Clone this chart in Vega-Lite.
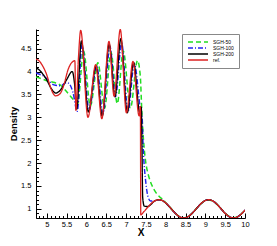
{
  "$schema": "https://vega.github.io/schema/vega-lite/v6.json",
  "width": 209,
  "height": 189,
  "autosize": {"type": "none"},
  "padding": {"left": 36, "top": 29, "right": 32, "bottom": 28},
  "background": "white",
  "config": {"view": {"stroke": null}, "font": "Liberation Sans"},
  "data": {"values": [
    {"s": "SGH-50", "x": 4.73, "rho": 3.88},
    {"s": "SGH-50", "x": 4.85, "rho": 3.85},
    {"s": "SGH-50", "x": 5.0, "rho": 3.8},
    {"s": "SGH-50", "x": 5.2, "rho": 3.76},
    {"s": "SGH-50", "x": 5.35, "rho": 3.7},
    {"s": "SGH-50", "x": 5.46, "rho": 3.6},
    {"s": "SGH-50", "x": 5.61, "rho": 3.45},
    {"s": "SGH-50", "x": 5.71, "rho": 3.35},
    {"s": "SGH-50", "x": 5.78, "rho": 3.3},
    {"s": "SGH-50", "x": 5.93, "rho": 4.45},
    {"s": "SGH-50", "x": 6.1, "rho": 3.25},
    {"s": "SGH-50", "x": 6.29, "rho": 4.19},
    {"s": "SGH-50", "x": 6.46, "rho": 3.2},
    {"s": "SGH-50", "x": 6.62, "rho": 4.42},
    {"s": "SGH-50", "x": 6.78, "rho": 3.3},
    {"s": "SGH-50", "x": 6.93, "rho": 4.45},
    {"s": "SGH-50", "x": 7.11, "rho": 3.2},
    {"s": "SGH-50", "x": 7.29, "rho": 4.24},
    {"s": "SGH-50", "x": 7.36, "rho": 3.9},
    {"s": "SGH-50", "x": 7.4, "rho": 3.1},
    {"s": "SGH-50", "x": 7.45, "rho": 2.4},
    {"s": "SGH-50", "x": 7.5, "rho": 2.0},
    {"s": "SGH-50", "x": 7.56, "rho": 1.75},
    {"s": "SGH-50", "x": 7.65, "rho": 1.52},
    {"s": "SGH-50", "x": 7.75, "rho": 1.36},
    {"s": "SGH-50", "x": 7.85, "rho": 1.26},
    {"s": "SGH-50", "x": 7.95, "rho": 1.19},
    {"s": "SGH-50", "x": 8.0, "rho": 1.13},
    {"s": "SGH-50", "x": 8.1, "rho": 1.041},
    {"s": "SGH-50", "x": 8.2, "rho": 0.942},
    {"s": "SGH-50", "x": 8.3, "rho": 0.86},
    {"s": "SGH-50", "x": 8.4, "rho": 0.812},
    {"s": "SGH-50", "x": 8.456, "rho": 0.805},
    {"s": "SGH-50", "x": 8.5, "rho": 0.81},
    {"s": "SGH-50", "x": 8.6, "rho": 0.852},
    {"s": "SGH-50", "x": 8.7, "rho": 0.932},
    {"s": "SGH-50", "x": 8.8, "rho": 1.03},
    {"s": "SGH-50", "x": 8.9, "rho": 1.118},
    {"s": "SGH-50", "x": 9.0, "rho": 1.178},
    {"s": "SGH-50", "x": 9.085, "rho": 1.193},
    {"s": "SGH-50", "x": 9.2, "rho": 1.163},
    {"s": "SGH-50", "x": 9.3, "rho": 1.093},
    {"s": "SGH-50", "x": 9.4, "rho": 0.998},
    {"s": "SGH-50", "x": 9.5, "rho": 0.904},
    {"s": "SGH-50", "x": 9.6, "rho": 0.834},
    {"s": "SGH-50", "x": 9.71, "rho": 0.806},
    {"s": "SGH-50", "x": 9.8, "rho": 0.822},
    {"s": "SGH-50", "x": 9.9, "rho": 0.882},
    {"s": "SGH-50", "x": 10.0, "rho": 0.974},

    {"s": "SGH-100", "x": 4.73, "rho": 3.97},
    {"s": "SGH-100", "x": 4.85, "rho": 3.93},
    {"s": "SGH-100", "x": 4.93, "rho": 3.9},
    {"s": "SGH-100", "x": 5.05, "rho": 3.8},
    {"s": "SGH-100", "x": 5.18, "rho": 3.71},
    {"s": "SGH-100", "x": 5.35, "rho": 3.69},
    {"s": "SGH-100", "x": 5.5, "rho": 3.76},
    {"s": "SGH-100", "x": 5.58, "rho": 3.72},
    {"s": "SGH-100", "x": 5.66, "rho": 3.55},
    {"s": "SGH-100", "x": 5.77, "rho": 3.13},
    {"s": "SGH-100", "x": 5.89, "rho": 4.58},
    {"s": "SGH-100", "x": 6.07, "rho": 3.15},
    {"s": "SGH-100", "x": 6.26, "rho": 4.13},
    {"s": "SGH-100", "x": 6.42, "rho": 3.08},
    {"s": "SGH-100", "x": 6.595, "rho": 4.55},
    {"s": "SGH-100", "x": 6.735, "rho": 3.45},
    {"s": "SGH-100", "x": 6.89, "rho": 4.62},
    {"s": "SGH-100", "x": 7.05, "rho": 3.13},
    {"s": "SGH-100", "x": 7.21, "rho": 4.17},
    {"s": "SGH-100", "x": 7.37, "rho": 3.15},
    {"s": "SGH-100", "x": 7.4, "rho": 3.05},
    {"s": "SGH-100", "x": 7.435, "rho": 2.29},
    {"s": "SGH-100", "x": 7.5, "rho": 1.57},
    {"s": "SGH-100", "x": 7.56, "rho": 1.25},
    {"s": "SGH-100", "x": 7.62, "rho": 1.17},
    {"s": "SGH-100", "x": 7.7, "rho": 1.17},
    {"s": "SGH-100", "x": 7.77, "rho": 1.19},
    {"s": "SGH-100", "x": 7.84, "rho": 1.2},
    {"s": "SGH-100", "x": 7.9, "rho": 1.187},
    {"s": "SGH-100", "x": 8.0, "rho": 1.13},
    {"s": "SGH-100", "x": 8.1, "rho": 1.041},
    {"s": "SGH-100", "x": 8.2, "rho": 0.942},
    {"s": "SGH-100", "x": 8.3, "rho": 0.858},
    {"s": "SGH-100", "x": 8.4, "rho": 0.808},
    {"s": "SGH-100", "x": 8.456, "rho": 0.8},
    {"s": "SGH-100", "x": 8.5, "rho": 0.805},
    {"s": "SGH-100", "x": 8.6, "rho": 0.85},
    {"s": "SGH-100", "x": 8.7, "rho": 0.932},
    {"s": "SGH-100", "x": 8.8, "rho": 1.03},
    {"s": "SGH-100", "x": 8.9, "rho": 1.12},
    {"s": "SGH-100", "x": 9.0, "rho": 1.183},
    {"s": "SGH-100", "x": 9.085, "rho": 1.2},
    {"s": "SGH-100", "x": 9.2, "rho": 1.167},
    {"s": "SGH-100", "x": 9.3, "rho": 1.093},
    {"s": "SGH-100", "x": 9.4, "rho": 0.998},
    {"s": "SGH-100", "x": 9.5, "rho": 0.902},
    {"s": "SGH-100", "x": 9.6, "rho": 0.831},
    {"s": "SGH-100", "x": 9.71, "rho": 0.8},
    {"s": "SGH-100", "x": 9.8, "rho": 0.819},
    {"s": "SGH-100", "x": 9.9, "rho": 0.882},
    {"s": "SGH-100", "x": 10.0, "rho": 0.974},

    {"s": "SGH-200", "x": 4.73, "rho": 4.09},
    {"s": "SGH-200", "x": 4.85, "rho": 4.0},
    {"s": "SGH-200", "x": 5.0, "rho": 3.82},
    {"s": "SGH-200", "x": 5.12, "rho": 3.62},
    {"s": "SGH-200", "x": 5.23, "rho": 3.53},
    {"s": "SGH-200", "x": 5.35, "rho": 3.6},
    {"s": "SGH-200", "x": 5.5, "rho": 3.82},
    {"s": "SGH-200", "x": 5.645, "rho": 4.0},
    {"s": "SGH-200", "x": 5.7, "rho": 3.75},
    {"s": "SGH-200", "x": 5.755, "rho": 3.18},
    {"s": "SGH-200", "x": 5.875, "rho": 4.67},
    {"s": "SGH-200", "x": 6.05, "rho": 3.12},
    {"s": "SGH-200", "x": 6.245, "rho": 4.12},
    {"s": "SGH-200", "x": 6.4, "rho": 3.03},
    {"s": "SGH-200", "x": 6.575, "rho": 4.6},
    {"s": "SGH-200", "x": 6.72, "rho": 3.45},
    {"s": "SGH-200", "x": 6.87, "rho": 4.72},
    {"s": "SGH-200", "x": 7.03, "rho": 3.1},
    {"s": "SGH-200", "x": 7.19, "rho": 4.2},
    {"s": "SGH-200", "x": 7.35, "rho": 3.08},
    {"s": "SGH-200", "x": 7.385, "rho": 3.22},
    {"s": "SGH-200", "x": 7.4, "rho": 2.5},
    {"s": "SGH-200", "x": 7.42, "rho": 1.25},
    {"s": "SGH-200", "x": 7.46, "rho": 1.06},
    {"s": "SGH-200", "x": 7.55, "rho": 1.05},
    {"s": "SGH-200", "x": 7.62, "rho": 1.09},
    {"s": "SGH-200", "x": 7.7, "rho": 1.16},
    {"s": "SGH-200", "x": 7.75, "rho": 1.185},
    {"s": "SGH-200", "x": 7.84, "rho": 1.2},
    {"s": "SGH-200", "x": 7.9, "rho": 1.187},
    {"s": "SGH-200", "x": 8.0, "rho": 1.13},
    {"s": "SGH-200", "x": 8.1, "rho": 1.041},
    {"s": "SGH-200", "x": 8.2, "rho": 0.942},
    {"s": "SGH-200", "x": 8.3, "rho": 0.858},
    {"s": "SGH-200", "x": 8.4, "rho": 0.808},
    {"s": "SGH-200", "x": 8.456, "rho": 0.8},
    {"s": "SGH-200", "x": 8.5, "rho": 0.805},
    {"s": "SGH-200", "x": 8.6, "rho": 0.85},
    {"s": "SGH-200", "x": 8.7, "rho": 0.932},
    {"s": "SGH-200", "x": 8.8, "rho": 1.03},
    {"s": "SGH-200", "x": 8.9, "rho": 1.12},
    {"s": "SGH-200", "x": 9.0, "rho": 1.183},
    {"s": "SGH-200", "x": 9.085, "rho": 1.2},
    {"s": "SGH-200", "x": 9.2, "rho": 1.167},
    {"s": "SGH-200", "x": 9.3, "rho": 1.093},
    {"s": "SGH-200", "x": 9.4, "rho": 0.998},
    {"s": "SGH-200", "x": 9.5, "rho": 0.902},
    {"s": "SGH-200", "x": 9.6, "rho": 0.831},
    {"s": "SGH-200", "x": 9.71, "rho": 0.8},
    {"s": "SGH-200", "x": 9.8, "rho": 0.819},
    {"s": "SGH-200", "x": 9.9, "rho": 0.882},
    {"s": "SGH-200", "x": 10.0, "rho": 0.974},

    {"s": "ref.", "x": 4.73, "rho": 4.27},
    {"s": "ref.", "x": 4.8, "rho": 4.24},
    {"s": "ref.", "x": 4.9, "rho": 4.12},
    {"s": "ref.", "x": 5.0, "rho": 3.93},
    {"s": "ref.", "x": 5.08, "rho": 3.7},
    {"s": "ref.", "x": 5.15, "rho": 3.54},
    {"s": "ref.", "x": 5.22, "rho": 3.47},
    {"s": "ref.", "x": 5.3, "rho": 3.49},
    {"s": "ref.", "x": 5.38, "rho": 3.58},
    {"s": "ref.", "x": 5.45, "rho": 3.76},
    {"s": "ref.", "x": 5.53, "rho": 4.02},
    {"s": "ref.", "x": 5.6, "rho": 4.16},
    {"s": "ref.", "x": 5.66, "rho": 4.22},
    {"s": "ref.", "x": 5.71, "rho": 4.24},
    {"s": "ref.", "x": 5.735, "rho": 3.15},
    {"s": "ref.", "x": 5.8, "rho": 4.3},
    {"s": "ref.", "x": 5.857, "rho": 4.9},
    {"s": "ref.", "x": 6.04, "rho": 3.0},
    {"s": "ref.", "x": 6.235, "rho": 4.15},
    {"s": "ref.", "x": 6.39, "rho": 2.97},
    {"s": "ref.", "x": 6.57, "rho": 4.66},
    {"s": "ref.", "x": 6.7, "rho": 3.46},
    {"s": "ref.", "x": 6.855, "rho": 4.92},
    {"s": "ref.", "x": 7.01, "rho": 3.1},
    {"s": "ref.", "x": 7.175, "rho": 4.22},
    {"s": "ref.", "x": 7.33, "rho": 3.03},
    {"s": "ref.", "x": 7.362, "rho": 3.24},
    {"s": "ref.", "x": 7.372, "rho": 0.87},
    {"s": "ref.", "x": 7.45, "rho": 0.938},
    {"s": "ref.", "x": 7.55, "rho": 1.037},
    {"s": "ref.", "x": 7.65, "rho": 1.126},
    {"s": "ref.", "x": 7.75, "rho": 1.185},
    {"s": "ref.", "x": 7.84, "rho": 1.2},
    {"s": "ref.", "x": 7.9, "rho": 1.187},
    {"s": "ref.", "x": 8.0, "rho": 1.13},
    {"s": "ref.", "x": 8.1, "rho": 1.041},
    {"s": "ref.", "x": 8.2, "rho": 0.942},
    {"s": "ref.", "x": 8.3, "rho": 0.858},
    {"s": "ref.", "x": 8.4, "rho": 0.808},
    {"s": "ref.", "x": 8.456, "rho": 0.8},
    {"s": "ref.", "x": 8.5, "rho": 0.805},
    {"s": "ref.", "x": 8.6, "rho": 0.85},
    {"s": "ref.", "x": 8.7, "rho": 0.932},
    {"s": "ref.", "x": 8.8, "rho": 1.03},
    {"s": "ref.", "x": 8.9, "rho": 1.12},
    {"s": "ref.", "x": 9.0, "rho": 1.183},
    {"s": "ref.", "x": 9.085, "rho": 1.2},
    {"s": "ref.", "x": 9.2, "rho": 1.167},
    {"s": "ref.", "x": 9.3, "rho": 1.093},
    {"s": "ref.", "x": 9.4, "rho": 0.998},
    {"s": "ref.", "x": 9.5, "rho": 0.902},
    {"s": "ref.", "x": 9.6, "rho": 0.831},
    {"s": "ref.", "x": 9.71, "rho": 0.8},
    {"s": "ref.", "x": 9.8, "rho": 0.819},
    {"s": "ref.", "x": 9.9, "rho": 0.882},
    {"s": "ref.", "x": 10.0, "rho": 0.974}
  ]},
  "layer": [
    {
      "mark": {"type": "point", "opacity": 0, "size": 0},
      "encoding": {
        "x": {
          "field": "x", "type": "quantitative",
          "scale": {"domain": [4.73, 10], "nice": false, "zero": false},
          "axis": {
            "orient": "bottom", "title": null, "labels": false, "domain": false, "grid": false,
            "values": [4.8,4.9,5,5.1,5.2,5.3,5.4,5.5,5.6,5.7,5.8,5.9,6,6.1,6.2,6.3,6.4,6.5,6.6,6.7,6.8,6.9,7,7.1,7.2,7.3,7.4,7.5,7.6,7.7,7.8,7.9,8,8.1,8.2,8.3,8.4,8.5,8.6,8.7,8.8,8.9,9,9.1,9.2,9.3,9.4,9.5,9.6,9.7,9.8,9.9,10],
            "tickSize": {"condition": {"test": "abs(datum.value*2-round(datum.value*2))<0.01", "value": -5}, "value": -2.5},
            "tickColor": "black"
          }
        },
        "y": {
          "field": "rho", "type": "quantitative",
          "scale": {"domain": [0.8, 4.93], "nice": false, "zero": false},
          "axis": {
            "orient": "left", "title": null, "labels": false, "domain": false, "grid": false,
            "values": [0.8,0.9,1,1.1,1.2,1.3,1.4,1.5,1.6,1.7,1.8,1.9,2,2.1,2.2,2.3,2.4,2.5,2.6,2.7,2.8,2.9,3,3.1,3.2,3.3,3.4,3.5,3.6,3.7,3.8,3.9,4,4.1,4.2,4.3,4.4,4.5,4.6,4.7,4.8,4.9],
            "tickSize": {"condition": {"test": "abs(datum.value*2-round(datum.value*2))<0.01", "value": -5}, "value": -2.5},
            "tickColor": "black"
          }
        }
      }
    },
    {
      "mark": {"type": "line", "interpolate": "monotone", "clip": true},
      "encoding": {
        "x": {
          "field": "x", "type": "quantitative",
          "axis": {
            "orient": "bottom", "title": "X", "ticks": false, "grid": false,
            "values": [5, 5.5, 6, 6.5, 7, 7.5, 8, 8.5, 9, 9.5, 10],
            "labelExpr": "'' + datum.value",
            "domainColor": "black", "labelColor": "black", "labelFontSize": 7.5,
            "labelPadding": 2, "labelFlush": false, "labelOverlap": false,
            "titleFontSize": 10, "titleFontWeight": "bold", "titleColor": "black", "titlePadding": 0
          }
        },
        "y": {
          "field": "rho", "type": "quantitative",
          "axis": {
            "orient": "left", "title": "Density", "ticks": false, "grid": false,
            "values": [1, 1.5, 2, 2.5, 3, 3.5, 4, 4.5],
            "labelExpr": "'' + datum.value",
            "domainColor": "black", "labelColor": "black", "labelFontSize": 7.5,
            "labelPadding": 5, "labelFlush": false, "labelOverlap": false,
            "titleFontSize": 9.5, "titleFontWeight": "bold", "titleColor": "black", "titlePadding": 2
          }
        },
        "color": {
          "field": "s", "type": "nominal",
          "scale": {"domain": ["SGH-50", "SGH-100", "SGH-200", "ref."], "range": ["#22dd22", "#2222ee", "#000000", "#dd2222"]},
          "legend": {
            "title": null, "orient": "none", "legendX": 146, "legendY": 5,
            "fillColor": "white", "strokeColor": "#888888", "padding": 5,
            "symbolType": "M-1,0H9", "symbolSize": 16, "symbolStrokeWidth": 1.4,
            "labelFontSize": 5, "labelColor": "black", "labelOffset": 20,
            "rowPadding": 0
          }
        },
        "strokeDash": {
          "field": "s", "type": "nominal",
          "scale": {"domain": ["SGH-50", "SGH-100", "SGH-200", "ref."], "range": [[5, 3], [5, 2, 1, 2], [1, 0], [1, 0]]}
        },
        "strokeWidth": {
          "field": "s", "type": "nominal",
          "scale": {"domain": ["SGH-50", "SGH-100", "SGH-200", "ref."], "range": [1.5, 1.3, 1.3, 1.8]},
          "legend": null
        }
      }
    }
  ],
  "resolve": {"axis": {"x": "independent", "y": "independent"}}
}
